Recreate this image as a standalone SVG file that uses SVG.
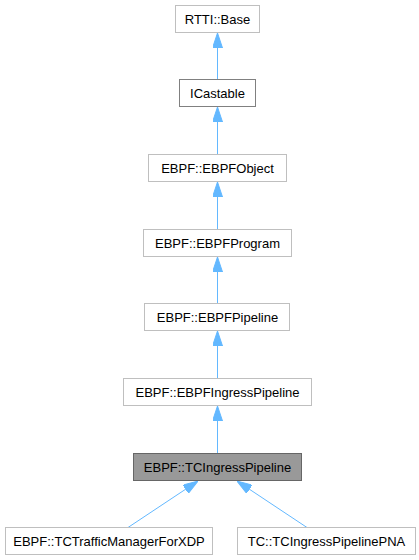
<svg xmlns="http://www.w3.org/2000/svg" width="419" height="560" viewBox="0 0 419 560">
<style>
.box{fill:#ffffff;stroke:#bfbfbf;stroke-width:1}
.dark{fill:#ffffff;stroke:#808080;stroke-width:1}
.cur{fill:#999999;stroke:#666666;stroke-width:1}
text{font-family:"Liberation Sans",Arial,sans-serif;font-size:13px;fill:#000000;text-anchor:middle}
.edge{stroke:#63b8ff;stroke-width:1;fill:none;marker-end:url(#arr)}
</style>
<defs>
<marker id="arr" viewBox="0 0 15 10" refX="15" refY="5" markerWidth="15" markerHeight="10" markerUnits="userSpaceOnUse" orient="auto">
<path d="M0,0 L15,5 L0,10 z" fill="#63b8ff" stroke="#63b8ff" stroke-width="1"/>
</marker>
</defs>
<rect width="419" height="560" fill="#ffffff"/>
<g id="connectors">
<path class="edge" d="M217.5,79.5 L217.5,33"/>
<path class="edge" d="M217.5,154.5 L217.5,107"/>
<path class="edge" d="M217.5,229.5 L217.5,182"/>
<path class="edge" d="M217.5,303.5 L217.5,257"/>
<path class="edge" d="M217.5,378.5 L217.5,331"/>
<path class="edge" d="M217.5,453.5 L217.5,406"/>
<path class="edge" d="M128,527.5 L198,481"/>
<path class="edge" d="M307,527.5 L237,481"/>
</g>
<g id="node-rtti-base"><rect class="box" x="175.5" y="5.5" width="84" height="27"/><text x="217.5" y="23.5">RTTI::Base</text></g>
<g id="node-icastable"><rect class="dark" x="179.5" y="79.5" width="76" height="27"/><text x="217.5" y="97.5">ICastable</text></g>
<g id="node-ebpfobject"><rect class="box" x="148.5" y="154.5" width="138" height="27"/><text x="217.5" y="172.5">EBPF::EBPFObject</text></g>
<g id="node-ebpfprogram"><rect class="box" x="143.5" y="229.5" width="148" height="27"/><text x="217.5" y="247.5">EBPF::EBPFProgram</text></g>
<g id="node-ebpfpipeline"><rect class="box" x="144.5" y="303.5" width="145" height="27"/><text x="217.5" y="321.5">EBPF::EBPFPipeline</text></g>
<g id="node-ebpfingresspipeline"><rect class="box" x="123.5" y="378.5" width="188" height="27"/><text x="217.5" y="396.5">EBPF::EBPFIngressPipeline</text></g>
<g id="node-tcingresspipeline"><rect class="cur" x="133.5" y="453.5" width="168" height="27"/><text x="217.5" y="471.5">EBPF::TCIngressPipeline</text></g>
<g id="node-tctrafficmanagerforxdp"><rect class="box" x="5.5" y="527.5" width="207" height="27"/><text x="109" y="545.5">EBPF::TCTrafficManagerForXDP</text></g>
<g id="node-tcingresspipelinepna"><rect class="box" x="237.5" y="527.5" width="178" height="27"/><text x="326.5" y="545.5">TC::TCIngressPipelinePNA</text></g>
</svg>
